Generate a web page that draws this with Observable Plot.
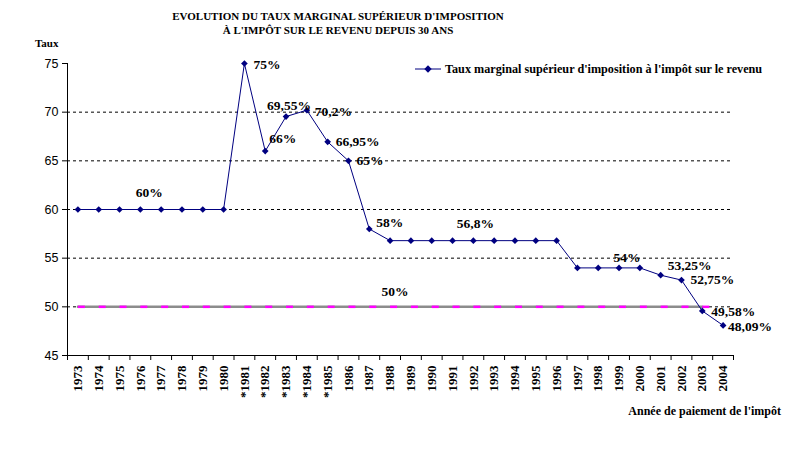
<!DOCTYPE html>
<html><head><meta charset="utf-8">
<script src="https://cdn.jsdelivr.net/npm/d3@7"></script>
<script src="https://cdn.jsdelivr.net/npm/@observablehq/plot@0.6"></script>
<style>
body{margin:0;background:#fff;}
#wrap{position:relative;width:788px;height:461px;font-family:"Liberation Serif","Times New Roman",serif;}
.t{position:absolute;font-weight:bold;white-space:nowrap;color:#000;font-size:11px;line-height:14px;}
#wrap svg.plot{position:absolute;left:0;top:0;}
</style></head><body><div id="wrap"></div>
<script>
const years = ["1973","1974","1975","1976","1977","1978","1979","1980","*1981","*1982","*1983","*1984","*1985","1986","1987","1988","1989","1990","1991","1992","1993","1994","1995","1996","1997","1998","1999","2000","2001","2002","2003","2004"];
const rates = [60,60,60,60,60,60,60,60,75,66,69.55,70.2,66.95,65,58,56.8,56.8,56.8,56.8,56.8,56.8,56.8,56.8,56.8,54,54,54,54,53.25,52.75,49.58,48.09];
const refValues = [50,50,50,50,50,50,50,50,50,50,50,50,50,50,50,50,50,50,50,50,50,50,50,50,50,50,50,50,50,50,50];
const yTicks = [45,50,55,60,65,70,75];
const gridValues = [50,55,60,65,70];
const labels = [
  {year:"1976", value:60, text:"60%"},
  {year:"*1981", value:75, text:"75%"},
  {year:"*1982", value:66, text:"66%"},
  {year:"*1983", value:69.55, text:"69,55%"},
  {year:"*1984", value:70.2, text:"70,2%"},
  {year:"*1985", value:66.95, text:"66,95%"},
  {year:"1986", value:65, text:"65%"},
  {year:"1987", value:58, text:"58%"},
  {year:"1992", value:56.8, text:"56,8%"},
  {year:"1988", value:50, text:"50%"},
  {year:"1999", value:54, text:"54%"},
  {year:"2001", value:53.25, text:"53,25%"},
  {year:"2002", value:52.75, text:"52,75%"},
  {year:"2003", value:49.58, text:"49,58%"},
  {year:"2004", value:48.09, text:"48,09%"}
];
// placement styles for each label (pixel offsets, anchor)
const labelPlacement = {
  "60%":{dx:9,dy:-17,a:"middle"}, "75%":{dx:9,dy:1,a:"start"}, "66%":{dx:4,dy:-12,a:"start"},
  "69,55%":{dx:3,dy:-11,a:"middle"}, "70,2%":{dx:8,dy:1,a:"start"}, "66,95%":{dx:8,dy:0,a:"start"},
  "65%":{dx:8,dy:0,a:"start"}, "58%":{dx:7,dy:-6,a:"start"}, "56,8%":{dx:2,dy:-17,a:"middle"},
  "50%":{dx:5,dy:-15,a:"middle"}, "54%":{dx:8,dy:-10,a:"middle"}, "53,25%":{dx:7,dy:-10,a:"start"},
  "52,75%":{dx:9,dy:0,a:"start"}, "49,58%":{dx:9,dy:1,a:"start"}, "48,09%":{dx:5,dy:1,a:"start"}
};

const serif = "'Liberation Serif', 'Times New Roman', serif";
const table = years.map((y,i)=>({pos:i+0.5, year:y, rate:rates[i]}));
const ref = refValues.map((v,i)=>({pos:i+0.5, v}));
const posOf = y => years.indexOf(y) + 0.5;
const dash = {draw(ctx){ ctx.rect(0,-1.25,7,2.5); }};

const labelMarks = labels.map(l => {
  const p = labelPlacement[l.text];
  return Plot.text([l], {x: d => posOf(d.year), y: "value", text: "text", dx: p.dx, dy: p.dy, textAnchor: p.a,
    fontFamily: serif, fontWeight: "bold", fontSize: 13.5, fill: "#000"});
});

const chart = Plot.plot({
  width: 788, height: 461,
  marginLeft: 67, marginRight: 55, marginTop: 63, marginBottom: 106,
  x: {domain: [0, years.length], axis: null},
  y: {domain: [45, 75], axis: null},
  style: {background: "transparent", overflow: "visible", color: "#000"},
  marks: [
    Plot.ruleY(gridValues, {stroke: "#000", strokeDasharray: "3,3", strokeWidth: 1}),
    Plot.line(ref, {x: "pos", y: "v", stroke: "#8c8c8c", strokeWidth: 2.5, strokeDasharray: "1,1"}),
    Plot.dot(ref, {x: "pos", y: "v", symbol: dash, fill: "#ff00ff", stroke: null}),
    Plot.line(table, {x: "pos", y: "rate", stroke: "#000080", strokeWidth: 1}),
    Plot.dot(table, {x: "pos", y: "rate", symbol: "diamond2", fill: "#000080", stroke: null, r: 3}),
    Plot.ruleX([0], {stroke: "#000"}),
    Plot.ruleY([45], {stroke: "#000"}),
    Plot.axisY({ticks: yTicks, tickSize: 5, tickPadding: 4, label: null, fontFamily: "'Liberation Sans', Arial, sans-serif", fontSize: 12.5, stroke: "#000"}),
    Plot.axisX({ticks: d3.range(years.length + 1), tickSize: 5, label: null, tickFormat: () => "", stroke: "#000"}),
    Plot.axisX({ticks: table.map(d => d.pos), tickSize: 0, tickPadding: 10, tickRotate: -90, label: null,
      tickFormat: p => years[Math.floor(p)], fontSize: 13, fontWeight: "bold", fontFamily: serif}),
    ...labelMarks
  ]
});

const wrap = document.getElementById("wrap");
wrap.appendChild(chart);

function addText(txt, css) {
  const d = document.createElement("div");
  d.className = "t";
  d.innerHTML = txt;
  Object.assign(d.style, css);
  wrap.appendChild(d);
  return d;
}
addText("EVOLUTION DU TAUX MARGINAL SUPÉRIEUR D'IMPOSITION<br>À L'IMPÔT SUR LE REVENU DEPUIS 30 ANS", {left: "0px", width: "676px", textAlign: "center", top: "9px"});
addText("Taux", {left: "35px", top: "36px"});
addText("Année de paiement de l'impôt", {right: "7px", top: "404px", fontSize: "12px"});
// legend
const leg = document.createElementNS("http://www.w3.org/2000/svg", "svg");
leg.setAttribute("width", 26); leg.setAttribute("height", 10);
leg.style.position = "absolute"; leg.style.left = "415px"; leg.style.top = "64px";
leg.innerHTML = '<line x1="0" y1="5" x2="26" y2="5" stroke="#000080" stroke-width="1"/><path d="M13,1.3L16.7,5L13,8.7L9.3,5Z" fill="#000080"/>';
wrap.appendChild(leg);
addText("Taux marginal supérieur d'imposition à l'impôt sur le revenu", {left: "445px", top: "62px", fontSize: "12.2px"});
</script></body></html>
